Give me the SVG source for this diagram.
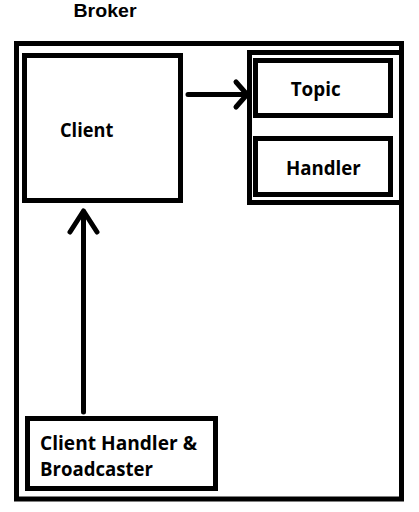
<svg xmlns="http://www.w3.org/2000/svg" width="419" height="512" viewBox="0 0 419 512">
<style>
.box{fill:none;stroke:#000;stroke-width:5}
.ln{fill:none;stroke:#000;stroke-width:5;stroke-linecap:round;stroke-linejoin:round}
.t{font-family:"Open Sans","Liberation Sans",sans-serif;font-weight:bold;font-size:20px;fill:#000}
.title{font-family:"Liberation Sans",Arial,sans-serif;font-weight:bold;font-size:18.5px;fill:#000}
</style>
<rect width="419" height="512" fill="#fff"/>
<g id="broker">
<rect class="box" x="16.5" y="43.5" width="385" height="455.5"/>
<text class="title" x="73.5" y="17" textLength="63" lengthAdjust="spacingAndGlyphs">Broker</text>
</g>
<g id="client">
<rect class="box" x="24.5" y="55.5" width="156" height="145"/>
<text class="t" x="60" y="137.3" textLength="53.3" lengthAdjust="spacingAndGlyphs">Client</text>
</g>
<g id="container">
<rect class="box" x="249.5" y="52.5" width="152" height="150"/>
</g>
<g id="topic">
<rect class="box" x="255.5" y="60.5" width="135" height="55"/>
<text class="t" x="290.7" y="96" textLength="50" lengthAdjust="spacingAndGlyphs">Topic</text>
</g>
<g id="handler">
<rect class="box" x="255.5" y="138.5" width="135" height="56"/>
<text class="t" x="286" y="175" textLength="74.7" lengthAdjust="spacingAndGlyphs">Handler</text>
</g>
<g id="client-handler">
<rect class="box" x="27.5" y="418.5" width="188" height="70"/>
<text class="t" x="40" y="449.5" textLength="157" lengthAdjust="spacingAndGlyphs">Client Handler &amp;</text>
<text class="t" x="40" y="476" textLength="113" lengthAdjust="spacingAndGlyphs">Broadcaster</text>
</g>
<g id="connectors">
<path class="ln" d="M188 94.5 H247 M236 82 L247 94.5 L236 107"/>
<path class="ln" d="M83.5 412 V211 M70 232 L83.5 211 L97 232"/>
</g>
</svg>
